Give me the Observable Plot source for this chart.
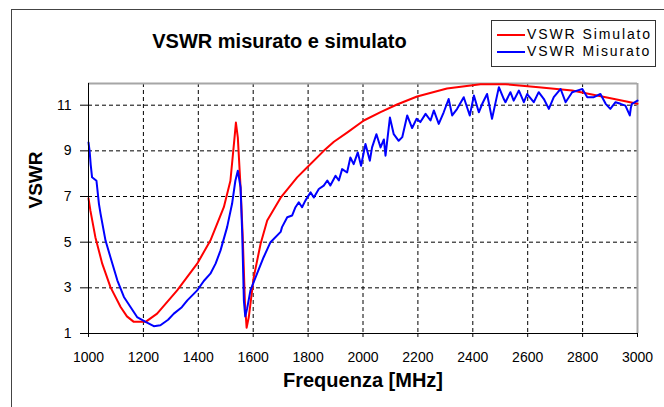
<!DOCTYPE html>
<html>
<head>
<meta charset="utf-8">
<script src="https://cdn.jsdelivr.net/npm/d3@7"></script>
<script src="https://cdn.jsdelivr.net/npm/@observablehq/plot@0.6"></script>
<style>
  html, body { margin: 0; padding: 0; background: #fff; }
  #wrap { position: relative; width: 664px; height: 407px; overflow: hidden; background: #fff; font-family: "Liberation Sans", Arial, sans-serif; }
  #header { position: relative; height: 70px; }
  #title { position: absolute; top: 31px; left: 279.5px; transform: translateX(-50%); font-size: 20px; line-height: 20px; font-weight: bold; white-space: nowrap; color: #000; }
  #legend { position: absolute; left: 491px; top: 20px; width: 165px; height: 47px; box-sizing: border-box; border: 1px solid #333; background: #fff; }
  .row { position: absolute; left: 5px; height: 17px; display: flex; align-items: center; white-space: nowrap; }
  .sw { width: 28px; height: 2px; margin-right: 2px; }
  .lab { font-size: 14px; line-height: 17px; letter-spacing: 1.9px; color: #000; }
  #frame { position: absolute; left: 11px; top: 9px; width: 800px; height: 600px; border-left: 1px solid #444; border-top: 1px solid #444; pointer-events: none; }
  svg { display: block; }
</style>
</head>
<body>
<div id="wrap">
  <div id="header">
    <div id="title"></div>
    <div id="legend"></div>
  </div>
  <div id="chart"></div>
  <div id="frame"></div>
</div>
<script>
// ---- data ----
const titleText = "VSWR misurato e simulato";
const xLabel = "Frequenza [MHz]";
const yLabel = "VSWR";
const seriesNames = ["VSWR Simulato", "VSWR Misurato"];
const seriesColors = ["#ff0000", "#0000ff"];

const xTicks = [1000, 1200, 1400, 1600, 1800, 2000, 2200, 2400, 2600, 2800, 3000];
const yTicks = [1, 3, 5, 7, 9, 11];

// Simulated VSWR
const freqSim = [1000, 1007, 1025, 1050, 1080, 1117, 1140, 1165, 1208, 1250, 1323, 1396, 1444, 1493, 1517, 1532, 1537, 1544, 1554, 1562, 1570, 1576, 1584, 1602, 1627, 1651, 1700, 1760, 1797, 1857, 1894, 1942, 2003, 2064, 2124, 2197, 2306, 2428, 2519, 2640, 2762, 2884, 3000];
const vswrSim = [6.92, 6.38, 5.22, 4.06, 3.03, 2.16, 1.75, 1.51, 1.51, 1.87, 2.89, 4.06, 5.07, 6.53, 7.69, 9.58, 10.24, 9.58, 7.4, 5.2, 2.31, 1.25, 1.72, 3.47, 4.93, 5.95, 6.95, 7.84, 8.28, 9.0, 9.4, 9.8, 10.33, 10.7, 11.03, 11.38, 11.73, 11.92, 11.92, 11.79, 11.64, 11.35, 11.06];

// Measured VSWR
const freqMis = [1000, 1004, 1008, 1013, 1029, 1038, 1044, 1062, 1080, 1105, 1129, 1153, 1177, 1208, 1238, 1262, 1290, 1311, 1340, 1360, 1396, 1420, 1444, 1463, 1481, 1505, 1523, 1535, 1544, 1554, 1560, 1566, 1571, 1578, 1590, 1614, 1638, 1663, 1700, 1705, 1724, 1742, 1754, 1766, 1778, 1790, 1809, 1821, 1839, 1857, 1870, 1881, 1900, 1912, 1924, 1942, 1954, 1966, 1981, 1993, 2009, 2025, 2033, 2049, 2064, 2076, 2082, 2098, 2112, 2130, 2143, 2161, 2179, 2195, 2209, 2228, 2246, 2258, 2276, 2294, 2312, 2325, 2343, 2367, 2389, 2404, 2422, 2434, 2452, 2470, 2495, 2513, 2519, 2537, 2549, 2568, 2586, 2598, 2622, 2640, 2659, 2677, 2695, 2720, 2738, 2762, 2780, 2799, 2817, 2841, 2865, 2884, 2901, 2920, 2938, 2956, 2972, 2976, 2980, 3000];
const vswrMis = [9.37, 9.0, 8.4, 7.84, 7.69, 6.68, 6.24, 5.07, 4.34, 3.33, 2.6, 2.16, 1.72, 1.51, 1.32, 1.36, 1.6, 1.87, 2.15, 2.45, 2.89, 3.3, 3.62, 4.06, 4.64, 5.66, 6.68, 7.69, 8.13, 7.4, 5.37, 2.45, 1.75, 2.1, 2.89, 3.62, 4.34, 5.0, 5.45, 5.66, 6.09, 6.17, 6.53, 6.75, 6.53, 6.82, 7.18, 6.96, 7.33, 7.48, 7.7, 7.48, 7.91, 7.7, 8.2, 8.05, 8.71, 8.42, 8.93, 8.35, 9.3, 8.57, 9.15, 9.73, 9.15, 9.5, 8.79, 10.46, 9.73, 9.44, 9.6, 10.55, 10.0, 10.4, 10.26, 10.62, 10.33, 10.77, 10.18, 10.69, 11.27, 10.55, 10.84, 11.35, 10.55, 11.42, 10.69, 11.05, 11.49, 10.4, 11.79, 11.27, 11.13, 11.57, 11.2, 11.64, 11.13, 11.49, 11.13, 11.57, 11.27, 10.84, 11.35, 11.71, 11.13, 11.57, 11.64, 11.71, 11.35, 11.35, 11.49, 11.06, 10.84, 11.13, 11.06, 10.98, 10.55, 10.9, 11.06, 11.2];

const yMax = 11.95;

// ---- build tables ----
const sim = freqSim.map((f, i) => ({f, v: vswrSim[i]}));
const mis = freqMis.map((f, i) => ({f, v: vswrMis[i]}));

// title and legend
document.getElementById("title").textContent = titleText;
const legend = document.getElementById("legend");
const rowCenters = [13.7, 30.7];
seriesNames.forEach((name, i) => {
  const row = document.createElement("div");
  row.className = "row";
  row.style.top = (rowCenters[i] - 8.5) + "px";
  const sw = document.createElement("div");
  sw.className = "sw";
  sw.style.background = seriesColors[i];
  const lab = document.createElement("span");
  lab.className = "lab";
  lab.textContent = name;
  row.appendChild(sw);
  row.appendChild(lab);
  legend.appendChild(row);
});

const grid = {stroke: "#000", strokeOpacity: 1, strokeWidth: 1, strokeDasharray: "4,3"};

const chart = Plot.plot({
  width: 664,
  height: 337,
  marginLeft: 88,
  marginRight: 27,
  marginTop: 13,
  marginBottom: 74,
  x: {domain: [1000, 3000]},
  y: {domain: [1, yMax]},
  style: {fontFamily: "'Liberation Sans', Arial, sans-serif", fontSize: "14px", color: "#000", background: "transparent", overflow: "visible"},
  marks: [
    Plot.gridY(yTicks.slice(1), grid),
    Plot.gridX(xTicks.slice(1, -1), grid),
    Plot.ruleX([3000], {stroke: "#a6a6a6", strokeWidth: 2}),
    Plot.ruleY([yMax], {stroke: "#a6a6a6", strokeWidth: 2}),
    Plot.line(sim, {x: "f", y: "v", stroke: seriesColors[0], strokeWidth: 2}),
    Plot.line(mis, {x: "f", y: "v", stroke: seriesColors[1], strokeWidth: 2}),
    Plot.ruleY([1], {stroke: "#000", strokeWidth: 1}),
    Plot.ruleX([1000], {stroke: "#000", strokeWidth: 1}),
    Plot.axisX(xTicks, {tickSize: 4, tickPadding: 15, label: null, fontSize: 14, stroke: "#000", tickFormat: d => String(d)}),
    Plot.axisY(yTicks, {tickSize: 8, tickPadding: 9, label: null, fontSize: 14, stroke: "#000", tickFormat: d => String(d)}),
    Plot.text([xLabel], {frameAnchor: "bottom", dy: 53, fontSize: 20, fontWeight: "bold", fill: "#000"}),
    Plot.text([yLabel], {frameAnchor: "left", dx: -53, rotate: -90, fontSize: 19, fontWeight: "bold", fill: "#000"})
  ]
});
document.getElementById("chart").appendChild(chart);
</script>
</body>
</html>
